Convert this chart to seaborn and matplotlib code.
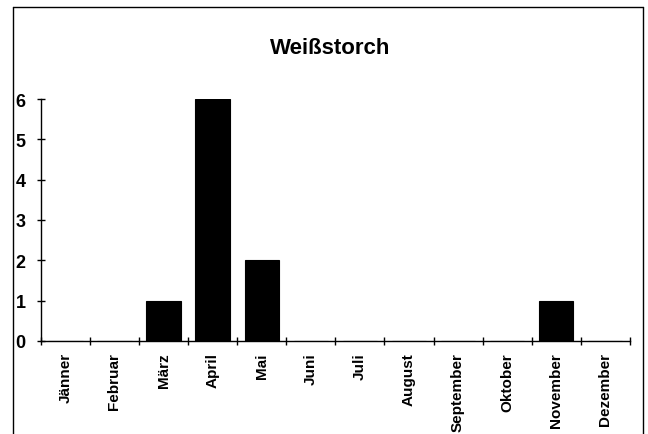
import matplotlib
matplotlib.use("Agg")
import matplotlib.pyplot as plt
import seaborn as sns
import pandas as pd
import numpy as np
from matplotlib.lines import Line2D
from matplotlib.ticker import FixedLocator

months = ["Jänner", "Februar", "März", "April", "Mai", "Juni", "Juli",
          "August", "September", "Oktober", "November", "Dezember"]
counts = [0, 0, 1, 6, 2, 0, 0, 0, 0, 0, 1, 0]
y_ticks = [0, 1, 2, 3, 4, 5, 6]

sns.set_style("white")
plt.rcParams['font.family'] = ['Liberation Sans', 'DejaVu Sans']
plt.rcParams['text.color'] = 'black'
plt.rcParams['xtick.color'] = 'black'
plt.rcParams['ytick.color'] = 'black'

df = pd.DataFrame({"Monat": months, "Anzahl": counts})

fig = plt.figure(figsize=(6.48, 4.35), dpi=100)
ax = fig.add_axes([0.063, 0.214, 0.909, 0.556])

sns.barplot(data=df, x="Monat", y="Anzahl", color="black", width=0.7,
            edgecolor="black", linewidth=0.8, saturation=1, ax=ax)

ax.set_ylim(0, 6)
ax.set_xlim(-0.5, 11.5)
ax.set_yticks(y_ticks)
ax.set_yticklabels([str(v) for v in y_ticks], fontsize=13, fontweight="bold")
ax.set_xticks(range(len(months)))
ax.set_xticklabels(months, rotation=90, fontsize=11, fontweight="bold")
ax.xaxis.set_minor_locator(FixedLocator(np.arange(-0.5, 12, 1)))
ax.tick_params(axis="x", which="major", bottom=True, length=0, pad=8)
ax.tick_params(axis="x", which="minor", bottom=True, length=6,
               direction="inout", width=1, color="black")
ax.tick_params(axis="y", left=True, length=6, direction="inout", width=1,
               color="black", pad=8)
ax.set_xlabel("")
ax.set_ylabel("")

for side in ["top", "right"]:
    ax.spines[side].set_visible(False)
for side in ["left", "bottom"]:
    ax.spines[side].set_color("black")
    ax.spines[side].set_linewidth(1)

fig.text(0.51, 0.888, "Weißstorch", ha="center", va="center",
         fontsize=16, fontweight="bold", color="black")

# outer chart border (left, top, right)
x0, x1, y1 = 13 / 648, 643 / 648, 1 - 8 / 435
for xs, ys in [([x0, x0], [0, y1]), ([x0, x1], [y1, y1]), ([x1, x1], [y1, 0])]:
    fig.add_artist(Line2D(xs, ys, color="black", linewidth=1))

fig.savefig("out.png", dpi=100)
